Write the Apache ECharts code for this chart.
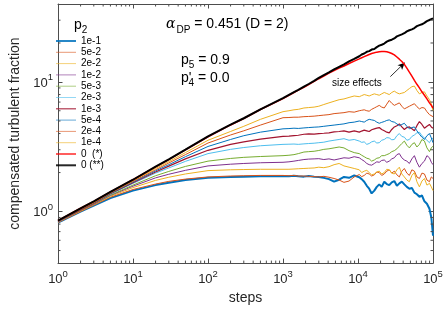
<!DOCTYPE html>
<html><head><meta charset="utf-8">
<script src="https://cdn.jsdelivr.net/npm/echarts@6/dist/echarts.min.js"></script>
<style>html,body{margin:0;padding:0;background:#fff}#c{width:446px;height:310px}</style>
</head><body><div id="c"></div>
<script>
// ---- data ----
const steps = [1,2,3,5,10,20,30,50,100,200,300,500,
  1000,1200,1400,1600,1900,2200,2600,3000,3500,4100,4800,5600,6500,7600,8900,
  10400,11200,12100,13100,14100,15200,16500,17800,19200,20700,22400,24200,26100,28200,30500,33000,
  35600,38400,41500,44800,48400,52300,56500,61000,65900,71200,76900,83000,89700,95000,100000];

const legendNames = ['1e-1','5e-2','2e-2','1e-2','5e-3','2e-3','1e-3','5e-4','2e-4','1e-4','0  (*)','0 (**)'];

const p_1e1 = [0.82,1.0,1.11,1.27,1.45,1.6,1.67,1.75,1.82,1.85,1.86,1.87,
  1.88,1.87,1.89,1.87,1.86,1.88,1.86,1.85,1.82,1.78,1.7,1.76,1.85,1.82,1.9,
  1.84,1.78,1.7,1.58,1.5,1.38,1.45,1.55,1.62,1.55,1.7,1.63,1.6,1.68,1.72,1.58,
  1.65,1.7,1.62,1.55,1.5,1.52,1.4,1.36,1.3,1.33,1.2,1.15,1.05,0.9,0.65];
const p_5e2 = [0.82,1.0,1.12,1.29,1.48,1.63,1.71,1.78,1.85,1.88,1.89,1.9,
  1.9,1.89,1.9,1.88,1.88,1.87,1.86,1.85,1.87,1.84,1.8,1.75,1.68,1.72,1.85,
  1.93,1.86,1.9,1.98,1.95,1.88,1.92,2.02,2.0,1.9,1.95,2.05,2.1,1.98,2.05,1.92,
  1.85,2.05,2.15,1.98,1.9,2.1,2.05,1.85,1.8,1.98,1.95,1.75,1.7,1.85,1.8];
const p_2e2 = [0.83,1.01,1.13,1.31,1.53,1.74,1.84,1.95,2.07,2.1,2.11,2.12,
  2.12,2.12,2.13,2.14,2.15,2.16,2.17,2.2,2.18,2.22,2.3,2.35,2.25,2.2,2.15,
  2.1,2.0,2.05,2.08,2.0,1.92,1.95,2.02,2.05,1.95,2.0,2.12,2.1,1.98,1.95,2.1,
  2.2,1.95,1.85,1.75,1.7,1.9,2.0,1.7,1.55,1.72,1.8,1.6,1.65,1.55,1.45];
const p_1e2 = [0.83,1.02,1.14,1.33,1.57,1.82,1.94,2.08,2.25,2.32,2.35,2.38,
  2.4,2.42,2.45,2.48,2.52,2.54,2.55,2.56,2.52,2.55,2.5,2.55,2.6,2.58,2.65,
  2.6,2.52,2.45,2.35,2.3,2.28,2.35,2.42,2.4,2.48,2.5,2.4,2.45,2.55,2.6,2.75,
  2.8,2.6,2.5,2.45,2.35,2.55,2.7,2.4,2.2,2.35,2.45,2.7,2.6,2.4,2.3];
const p_5e3 = [0.83,1.02,1.15,1.34,1.6,1.89,2.04,2.23,2.45,2.57,2.62,2.66,
  2.7,2.72,2.75,2.8,2.88,2.9,2.92,2.96,3.02,3.05,3.1,3.15,3.1,2.95,2.85,
  2.8,2.72,2.65,2.58,2.55,2.45,2.5,2.58,2.6,2.7,2.7,2.75,2.8,2.9,2.95,3.05,
  3.2,3.35,3.5,3.25,3.1,3.3,3.4,3.15,3.3,3.6,3.5,3.1,2.9,3.1,3.2];
const p_2e3 = [0.83,1.03,1.16,1.36,1.65,1.98,2.17,2.44,2.8,3.02,3.12,3.22,
  3.3,3.31,3.32,3.3,3.33,3.35,3.37,3.4,3.43,3.5,3.55,3.6,3.65,3.55,3.6,
  3.5,3.42,3.45,3.3,3.35,3.45,3.5,3.38,3.4,3.55,3.6,3.72,3.7,3.58,3.6,3.85,
  4.0,3.8,3.75,3.55,3.6,3.8,3.9,4.05,4.1,3.85,3.7,3.55,3.4,3.6,3.7];
const p_1e3 = [0.84,1.03,1.16,1.37,1.67,2.02,2.24,2.55,2.97,3.3,3.45,3.62,
  3.8,3.82,3.86,3.88,3.95,3.97,3.96,4.0,4.02,4.05,4.12,4.15,4.2,4.1,4.2,
  4.1,4.18,4.25,4.2,4.15,4.28,4.35,4.4,4.45,4.3,4.2,4.1,4.05,4.3,4.5,4.6,
  4.75,4.5,4.3,4.45,4.5,4.35,4.2,4.6,4.95,4.7,4.4,4.55,4.7,4.5,4.4];
const p_5e4 = [0.84,1.04,1.17,1.38,1.69,2.06,2.3,2.65,3.18,3.6,3.85,4.1,
  4.35,4.37,4.4,4.38,4.42,4.45,4.48,4.5,4.55,4.6,4.65,4.7,4.75,4.85,4.9,
  5.0,4.95,4.9,5.05,5.15,5.1,5.05,4.9,4.8,4.88,4.95,5.05,5.1,4.95,4.9,4.75,
  4.6,4.7,4.8,4.55,4.35,4.45,4.5,4.2,3.95,3.75,3.6,3.85,4.0,3.7,3.4];
const p_2e4 = [0.84,1.04,1.17,1.39,1.71,2.1,2.37,2.75,3.38,3.9,4.2,4.65,
  5.3,5.32,5.35,5.35,5.4,5.42,5.45,5.5,5.55,5.6,5.7,5.75,5.8,5.9,5.85,
  6.0,6.05,6.1,6.0,5.95,6.15,6.3,6.45,6.6,6.4,6.3,6.75,7.2,6.85,6.6,6.75,
  6.9,6.5,6.2,6.35,6.5,6.65,6.8,6.45,6.2,6.35,6.3,5.9,5.6,5.7,5.4];
const p_1e4 = [0.85,1.05,1.18,1.4,1.73,2.15,2.43,2.85,3.55,4.15,4.55,5.15,
  5.9,6.0,6.1,6.15,6.3,6.35,6.4,6.5,6.7,6.9,7.1,7.3,7.4,7.6,7.8,
  7.7,7.85,8.0,7.9,7.8,7.95,8.1,8.0,7.9,8.1,8.3,8.15,8.0,8.3,8.5,8.25,
  8.1,8.2,8.3,8.6,8.9,9.2,9.3,8.6,8.1,8.3,8.4,7.8,7.3,6.8,6.0];
const p_0a = [0.85,1.06,1.2,1.42,1.76,2.21,2.52,2.99,3.78,4.66,5.23,6.13,
  7.45,7.9,8.3,8.65,9.1,9.55,10.1,10.6,11.1,11.7,12.25,12.8,13.3,13.9,14.5,
  15.1,15.4,15.7,16.0,16.3,16.6,16.8,17.0,17.1,17.2,17.2,17.1,16.9,16.6,16.2,15.6,
  15.0,14.4,13.7,12.8,11.9,11.1,10.3,9.6,9.0,8.4,7.9,7.4,6.9,6.6,6.3];
const p_0b = [0.85,1.06,1.2,1.42,1.76,2.22,2.53,3.0,3.8,4.68,5.25,6.15,
  7.5,7.95,8.35,8.7,9.2,9.65,10.2,10.75,11.3,11.85,12.5,13.1,13.7,14.45,15.1,
  15.8,16.3,16.6,17.1,17.3,17.8,18.0,18.6,19.1,19.4,19.8,20.5,20.9,21.2,21.7,22.5,
  22.9,23.3,23.8,24.6,25.1,25.5,26.1,27.0,27.5,27.9,28.6,29.5,30.1,30.4,31.0];

const seriesValues = [p_1e1,p_5e2,p_2e2,p_1e2,p_5e3,p_2e3,p_1e3,p_5e4,p_2e4,p_1e4,p_0a,p_0b];

// axis limits
const X_MIN = 1, X_MAX = 100000, Y_MIN = 0.4, Y_MAX = 40;
// arrow annotation (data coords)
const arrowFrom = [27000, 11.0], arrowTo = [42000, 14.1];

// ---- styling ----
const colors = ['#0072BD','#D95319','#EDB120','#7E2F8E','#77AC30','#4DBEEE','#A2142F','#0072BD','#D95319','#EDB120','#FF0000','#000000'];
const widths = [2,1,1,1,1,1,1.2,1,1,1,1.5,2];
const FONT = "'Liberation Sans', Arial, Helvetica, sans-serif";
const AX = '#4d4d4d';

const minorX = [], minorY = [];
for (let d = 1; d < X_MAX; d *= 10) for (let m = 2; m <= 9; m++) minorX.push(m * d);
for (let d = 0.1; d < Y_MAX; d *= 10) for (let m = 2; m <= 9; m++) { const v = +(m * d).toPrecision(3); if (v > Y_MIN && v < Y_MAX) minorY.push(v); }

function powLabel(v) {
  const e = Math.log10(v), r = Math.round(e);
  if (Math.abs(e - r) > 1e-6) return '';
  return '{b|10}{s|' + r + '}';
}
const labelRich = {
  b: { fontSize: 13, fontFamily: FONT, color: '#262626', verticalAlign: 'bottom', lineHeight: 15 },
  s: { fontSize: 9.5, fontFamily: FONT, color: '#262626', verticalAlign: 'bottom', lineHeight: 15, padding: [0, 0, 7, 0] }
};

const lineSeries = legendNames.map((name, k) => {
  const s = {
    name, type: 'line', showSymbol: false, symbol: 'none',
    data: steps.map((x, i) => [x, seriesValues[k][i]]),
    lineStyle: { color: colors[k], width: widths[k] },
    itemStyle: { color: colors[k] },
    emphasis: { disabled: true }, silent: true, z: 3 + k
  };
  if (k === 10) {
    s.markLine = {
      silent: true, symbol: ['none', 'arrow'], symbolSize: [5, 7],
      lineStyle: { color: '#000', width: 0.8, type: 'solid' }, label: { show: false },
      data: [[{ coord: arrowFrom }, { coord: arrowTo }]]
    };
  }
  return s;
});

function tickSeries(vals, isX) {
  return {
    type: 'custom', silent: true, z: 20, clip: false,
    xAxisIndex: 0, yAxisIndex: 0,
    data: vals.map(v => isX ? [v, 1] : [1, v]),
    renderItem: (params, api) => {
      const L = 2.5;
      if (isX) {
        const v = api.value(0);
        const b = api.coord([v, Y_MIN]), t = api.coord([v, Y_MAX]);
        return { type: 'group', children: [
          { type: 'line', shape: { x1: b[0], y1: b[1], x2: b[0], y2: b[1] - L }, style: { stroke: AX, lineWidth: 1 } },
          { type: 'line', shape: { x1: t[0], y1: t[1], x2: t[0], y2: t[1] + L }, style: { stroke: AX, lineWidth: 1 } }
        ]};
      } else {
        const v = api.value(1);
        const l = api.coord([X_MIN, v]), r = api.coord([X_MAX, v]);
        return { type: 'group', children: [
          { type: 'line', shape: { x1: l[0], y1: l[1], x2: l[0] + L, y2: l[1] }, style: { stroke: AX, lineWidth: 1 } },
          { type: 'line', shape: { x1: r[0], y1: r[1], x2: r[0] - L, y2: r[1] }, style: { stroke: AX, lineWidth: 1 } }
        ]};
      }
    }
  };
}

const baseAxis = {
  type: 'log', logBase: 10,
  axisLine: { show: true, onZero: false, lineStyle: { color: AX, width: 1 } },
  axisTick: { show: true, inside: true, length: 4.5, lineStyle: { color: AX, width: 1 } },
  splitLine: { show: false }, minorTick: { show: false }
};

const option = {
  animation: false,
  backgroundColor: '#fff',
  grid: { left: 45, right: 13, top: 4, bottom: 42, containLabel: false },
  xAxis: [
    Object.assign({}, baseAxis, { min: X_MIN, max: X_MAX, position: 'bottom',
      name: 'steps', nameLocation: 'middle', nameGap: 26,
      nameTextStyle: { fontSize: 14, fontFamily: FONT, color: '#262626' },
      axisLabel: { formatter: powLabel, rich: labelRich, margin: 8, showMinLabel: true, showMaxLabel: true } }),
    Object.assign({}, baseAxis, { min: X_MIN, max: X_MAX, position: 'top', axisLabel: { show: false } })
  ],
  yAxis: [
    Object.assign({}, baseAxis, { min: Y_MIN, max: Y_MAX, position: 'left',
      name: 'compensated turbulent fraction', nameLocation: 'middle', nameGap: 36,
      nameTextStyle: { fontSize: 14, fontFamily: FONT, color: '#262626' },
      axisLabel: { formatter: powLabel, rich: labelRich, margin: 5, showMinLabel: false, showMaxLabel: false } }),
    Object.assign({}, baseAxis, { min: Y_MIN, max: Y_MAX, position: 'right', axisLabel: { show: false } })
  ],
  legend: {
    data: legendNames.map((n, k) => ({ name: n, itemStyle: { opacity: 0 },
      lineStyle: { width: widths[k], opacity: widths[k] > 1 ? 0.85 : 0.6 } })),
    orient: 'vertical', left: 55, top: 35.5, padding: 0,
    itemWidth: 20, itemHeight: 11, itemGap: 0.3,
    itemStyle: { opacity: 0 },
    textStyle: { fontSize: 10, fontFamily: FONT, color: '#000', lineHeight: 11 },
    selectedMode: false
  },
  graphic: [
    { type: 'text', left: 74, top: 18, style: { text: '{p|p}{s|2}', rich: {
      p: { fontSize: 14, fontFamily: FONT, fill: '#000', verticalAlign: 'top', lineHeight: 16 },
      s: { fontSize: 10, fontFamily: FONT, fill: '#000', verticalAlign: 'top', lineHeight: 16, padding: [7, 0, 0, 0] } } } },
    { type: 'text', left: 166, top: 17, style: { text: '{a|α}{s|DP}{t| = 0.451 (D = 2)}', rich: {
      a: { fontSize: 14, fontFamily: 'DejaVu Serif, serif', fontStyle: 'italic', fill: '#000', verticalAlign: 'top', lineHeight: 16 },
      s: { fontSize: 10, fontFamily: FONT, fill: '#000', verticalAlign: 'top', lineHeight: 16, padding: [8, 0, 0, 1] },
      t: { fontSize: 14, fontFamily: FONT, fill: '#000', verticalAlign: 'top', lineHeight: 16 } } } },
    { type: 'text', left: 181, top: 53, style: { text: '{p|p}{s|5}{t| = 0.9}', rich: {
      p: { fontSize: 14, fontFamily: FONT, fill: '#000', verticalAlign: 'top', lineHeight: 16 },
      s: { fontSize: 10, fontFamily: FONT, fill: '#000', verticalAlign: 'top', lineHeight: 16, padding: [7, 0, 0, 0] },
      t: { fontSize: 14, fontFamily: FONT, fill: '#000', verticalAlign: 'top', lineHeight: 16 } } } },
    { type: 'text', left: 181, top: 71, style: { text: "{p|p'}{s|4}{t| = 0.0}", rich: {
      p: { fontSize: 14, fontFamily: FONT, fill: '#000', verticalAlign: 'top', lineHeight: 16 },
      s: { fontSize: 10, fontFamily: FONT, fill: '#000', verticalAlign: 'top', lineHeight: 16, padding: [7, 0, 0, -3] },
      t: { fontSize: 14, fontFamily: FONT, fill: '#000', verticalAlign: 'top', lineHeight: 16 } } } },
    { type: 'text', left: 332, top: 78, style: { text: 'size effects', fontSize: 10, fontFamily: FONT, fill: '#000' } }
  ],
  series: lineSeries.concat([tickSeries(minorX, true), tickSeries(minorY, false)])
};

const chart = echarts.init(document.getElementById('c'), null, { renderer: 'canvas' });
chart.setOption(option);
</script></body></html>
